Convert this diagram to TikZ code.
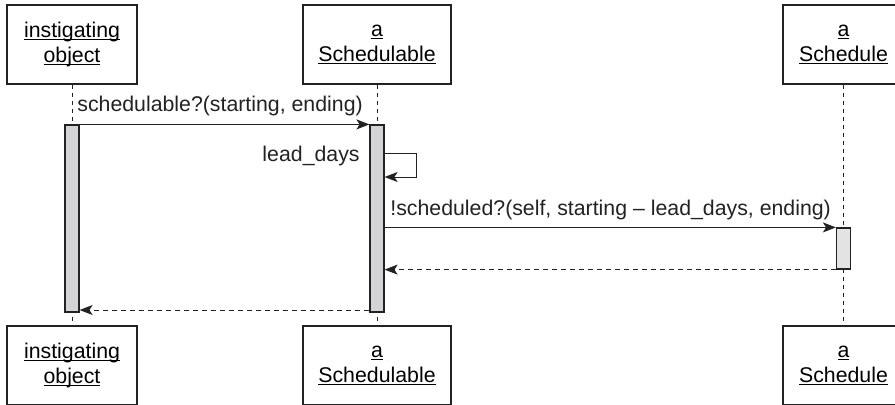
\documentclass[tikz,border=0pt]{standalone}
\usepackage{fontspec}
\setmainfont{Liberation Sans}
\usetikzlibrary{arrows.meta,calc}
\definecolor{barfill}{HTML}{D3D3D5}
\definecolor{barlight}{HTML}{E3E3E3}
\definecolor{ink}{HTML}{222222}
\newcommand\myul[1]{\setbox0\hbox{#1}\rlap{\rule[-1.3pt]{\wd0}{0.5pt}}\box0}
\begin{document}
\begin{tikzpicture}[x=0.5pt,y=-0.5pt,
  font=\fontsize{10.65}{12.2}\selectfont,
  obj/.style={draw=ink,line width=0.6pt,minimum height=39.5pt,align=center,inner sep=0pt},
  actbar/.style={draw=ink,line width=0.6pt,fill=barfill,minimum width=7pt,inner sep=0pt},
  life/.style={draw=ink,line width=0.5pt,dash pattern=on 2pt off 2pt},
  msg/.style={draw=ink,line width=0.5pt,-{Stealth[length=6.5pt,width=5pt,inset=1.6pt]}},
  ret/.style={msg,dash pattern=on 2.5pt off 2pt},
  lbl/.style={inner sep=0pt,text=ink}]
\clip (0,0) rectangle (895,404);
% object boxes
\node[obj,minimum width=65pt]   (t1) at (72,44.5)   {\myul{instigating}\\\myul{object}};
\node[obj,minimum width=74pt]   (t2) at (377,44.5)  {\myul{a}\\\myul{Schedulable}};
\node[obj,minimum width=60.5pt] (t3) at (843.5,44.5){\myul{a}\\\myul{Schedule}};
\node[obj,minimum width=65pt]   (b1) at (72,365.5)   {\myul{instigating}\\\myul{object}};
\node[obj,minimum width=74pt]   (b2) at (377,365.5)  {\myul{a}\\\myul{Schedulable}};
\node[obj,minimum width=60.5pt] (b3) at (843.5,365.5){\myul{a}\\\myul{Schedule}};
% lifelines
\draw[life] (t1.south) -- (b1.north);
\draw[life] (t2.south) -- (b2.north);
\draw[life] (t3.south) -- (b3.north);
% activation bars
\node[actbar,minimum height=93.5pt] (a1) at (72,218.5) {};
\node[actbar,minimum height=93.5pt] (a2) at (377,218.5) {};
\node[actbar,fill=barlight,minimum height=20.5pt] (a3) at (843.5,248.5) {};
% message 1
\draw[msg] (a1.north east) -- (a2.north west);
\node[lbl,anchor=base west] (m1) at (77,111) {schedulable?(starting, ending)};
% self call
\coordinate (s1) at (416,153);
\coordinate (s2) at (416,177);
\draw[msg] (a2.east |- s1) -- (s1) -- (s2) -- (a2.east |- s2);
\node[lbl,anchor=base east] (m2) at (360,161) {lead\_days};
% message 3
\draw[msg] (a2.east |- a3.north) -- (a3.north west);
\node[lbl,anchor=base west] (m3) at (390,215) {!scheduled?(self, starting – lead\_days, ending)};
% returns
\draw[ret] (a3.south west) -- (a2.east |- a3.south);
\coordinate (r2) at (0,310);
\draw[ret] (a2.west |- r2) -- (a1.east |- r2);
\end{tikzpicture}
\end{document}
